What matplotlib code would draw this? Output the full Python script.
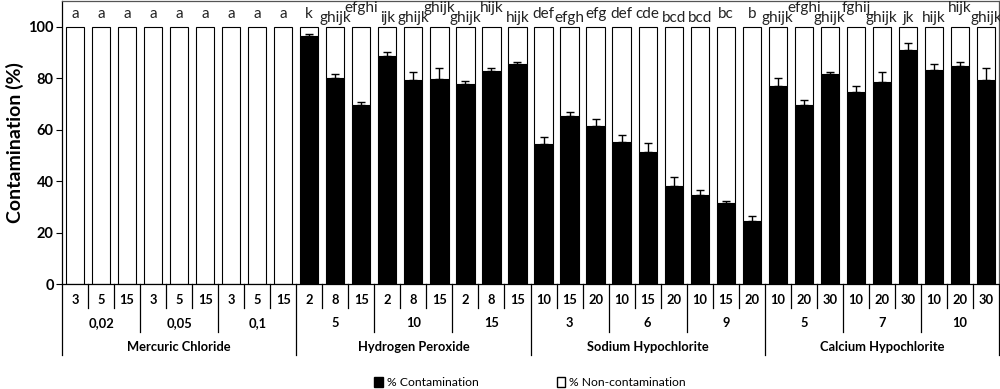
import matplotlib
matplotlib.use("Agg")
import matplotlib.pyplot as plt
import numpy as np
from matplotlib.patches import Patch
from matplotlib.transforms import blended_transform_factory

plt.rcParams["font.family"] = ["Lato", "DejaVu Sans"]

# --- data ---
products = ["Mercuric Chloride", "Hydrogen Peroxide", "Sodium Hypochlorite", "Calcium Hypochlorite"]
concentrations = ["0,02", "0,05", "0,1", "5", "10", "15", "3", "6", "9", "5", "7", "10"]
times = ["3", "5", "15"] * 3 + ["2", "8", "15"] * 3 + ["10", "15", "20"] * 3 + ["10", "20", "30"] * 3

contamination = [
    0, 0, 0, 0, 0, 0, 0, 0, 0,
    96.5, 80.0, 69.4, 88.8, 79.3, 79.6, 77.8, 82.7, 85.4,
    54.6, 65.2, 61.3, 55.3, 51.4, 38.1, 34.6, 31.6, 24.6,
    77.0, 69.4, 81.6, 74.7, 78.6, 90.9, 83.2, 84.6, 79.4,
]
error = [
    0, 0, 0, 0, 0, 0, 0, 0, 0,
    0.7, 1.7, 1.5, 1.3, 3.0, 4.5, 1.3, 1.1, 0.8,
    2.6, 1.6, 2.9, 2.6, 3.5, 3.5, 1.8, 0.8, 1.8,
    3.1, 2.0, 0.8, 2.3, 3.8, 2.6, 2.4, 1.8, 4.5,
]
letters = [
    "a", "a", "a", "a", "a", "a", "a", "a", "a",
    "k", "ghijk", "efghi", "ijk", "ghijk", "ghijk", "ghijk", "hijk", "hijk",
    "def", "efgh", "efg", "def", "cde", "bcd", "bcd", "bc", "b",
    "ghijk", "efghi", "ghijk", "fghij", "ghijk", "jk", "hijk", "hijk", "ghijk",
]

# letter stagger tier (0 low, 1 mid, 2 raised) so long labels don't collide
letter_tier = [1] * 9 + [1, 0, 2, 0, 0, 2, 0, 2, 0] + [1, 0, 1, 1, 1, 0, 0, 1, 1] + [0, 2, 0, 2, 0, 0, 0, 2, 0]
tier_y = {0: 102.0, 1: 103.3, 2: 105.6}

n = len(contamination)
x = np.arange(n)
conta = np.array(contamination)
non_conta = 100 - conta
err = np.array(error)

fig = plt.figure(figsize=(10, 3.89), dpi=100)
ax = fig.add_axes([0.062, 0.2699, 0.937, 0.7275])

ax.bar(x, conta, width=0.7, color="black", edgecolor="black", linewidth=0.8)
ax.bar(x, non_conta, bottom=conta, width=0.7, color="white", edgecolor="black", linewidth=0.8)

has_err = err > 0
ax.errorbar(x[has_err], conta[has_err], yerr=[np.zeros(has_err.sum()), err[has_err]],
            fmt="none", ecolor="black", elinewidth=1.0, capsize=3, capthick=1.0)

for xi, lab, tier in zip(x, letters, letter_tier):
    ax.text(xi, tier_y[tier], lab, ha="center", va="baseline", fontsize=11, color="#222222")

ax.set_xlim(-0.5, n - 0.5)
ax.set_ylim(0, 110)
ax.set_yticks([0, 20, 40, 60, 80, 100])
ax.set_yticklabels([str(v) for v in [0, 20, 40, 60, 80, 100]], fontweight="bold", fontsize=10.5)
ax.tick_params(axis="y", length=4, width=0.8, pad=2)
ax.set_xticks([])
ax.set_ylabel("Contamination (%)", fontsize=14, fontweight="bold", labelpad=3)
for side in ["top", "right", "left", "bottom"]:
    ax.spines[side].set_linewidth(0.9)
ax.spines["top"].set_color("#555555")
ax.spines["right"].set_color("#555555")

# --- multi-level category axis below the bars ---
trans = blended_transform_factory(ax.transData, ax.transAxes)
lvl1_end, lvl2_end, lvl3_end = -0.085, -0.170, -0.251
for b in range(n + 1):
    if b % 9 == 0:
        y_end = lvl3_end
    elif b % 3 == 0:
        y_end = lvl2_end
    else:
        y_end = lvl1_end
    ax.plot([b - 0.5, b - 0.5], [0, y_end], color="black", lw=0.9,
            transform=trans, clip_on=False)

for xi, t in zip(x, times):
    ax.text(xi, -0.057, t, ha="center", va="center", fontsize=9.3, fontweight="bold",
            transform=trans)
for i, c in enumerate(concentrations):
    ax.text(3 * i + 1, -0.138, c, ha="center", va="center", fontsize=9.3, fontweight="bold",
            transform=trans)
for i, p in enumerate(products):
    ax.text(9 * i + 4, -0.223, p, ha="center", va="center", fontsize=9.3, fontweight="bold",
            transform=trans)

handles = [Patch(facecolor="black", edgecolor="black", label="% Contamination"),
           Patch(facecolor="white", edgecolor="black", label="% Non-contamination")]
fig.legend(handles=handles, loc="center", bbox_to_anchor=(0.53, 0.017), ncol=2,
           frameon=False, fontsize=8.7, handlelength=0.7, handleheight=0.9,
           handletextpad=0.3, columnspacing=6.5)

fig.savefig("out.png", dpi=100)
